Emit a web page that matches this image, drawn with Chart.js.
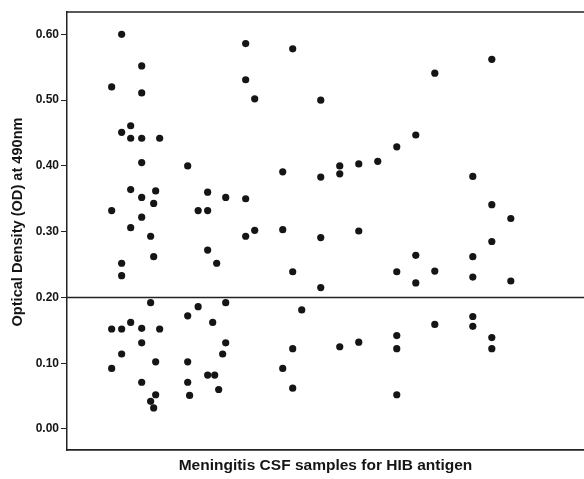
<!DOCTYPE html>
<html>
<head>
<meta charset="utf-8">
<script src="https://cdn.jsdelivr.net/npm/chart.js@4"></script>
<style>
html,body{margin:0;padding:0;background:#fff;overflow:hidden;}
#wrap{width:584px;height:479px;position:relative;}
</style>
</head>
<body>
<div id="wrap"><canvas id="c" width="584" height="479"></canvas></div>
<script>
// Sample position along the (unlabelled) x axis
const sampleX = [
  0, 0, 0, 0,
  1.05, 1.05, 1.05, 1.05, 1.05, 1.05,
  2, 2, 2, 2, 2,
  3.16, 3.16, 3.16, 3.16, 3.16, 3.16, 3.16, 3.16, 3.16,
  4.1, 4.1, 4.1,
  4.42, 4.42, 4.42,
  4.63, 4.63, 4.63,
  5.05, 5.05,
  8, 8, 8, 8, 8.2,
  9.1, 9.1,
  10.1, 10.1, 10.1, 10.1,
  10.63, 10.84, 11.05, 11.26, 11.68,
  12, 12, 12,
  14.1, 14.1, 14.1, 14.1,
  15.05, 15.05,
  18, 18, 18,
  19.05, 19.05, 19.05, 19.05,
  20,
  22, 22, 22, 22,
  24, 24, 24,
  26, 26, 26,
  28,
  30, 30, 30, 30, 30,
  32, 32, 32,
  34, 34, 34,
  38, 38, 38, 38, 38,
  40, 40, 40, 40, 40,
  42, 42
];
// Optical density (OD) at 490nm for each sample
const odValues = [
  0.520, 0.332, 0.152, 0.092,
  0.600, 0.451, 0.252, 0.233, 0.152, 0.114,
  0.461, 0.442, 0.364, 0.306, 0.162,
  0.552, 0.511, 0.442, 0.405, 0.352, 0.322, 0.153, 0.131, 0.071,
  0.293, 0.192, 0.042,
  0.343, 0.262, 0.032,
  0.362, 0.102, 0.052,
  0.442, 0.152,
  0.400, 0.172, 0.102, 0.071, 0.051,
  0.332, 0.186,
  0.360, 0.332, 0.272, 0.082,
  0.162, 0.082, 0.252, 0.060, 0.114,
  0.352, 0.192, 0.131,
  0.586, 0.531, 0.350, 0.293,
  0.502, 0.302,
  0.391, 0.303, 0.092,
  0.578, 0.239, 0.122, 0.062,
  0.181,
  0.500, 0.383, 0.291, 0.215,
  0.400, 0.388, 0.125,
  0.403, 0.301, 0.132,
  0.407,
  0.429, 0.239, 0.142, 0.122, 0.052,
  0.447, 0.264, 0.222,
  0.541, 0.240, 0.159,
  0.384, 0.262, 0.231, 0.171, 0.156,
  0.562, 0.341, 0.285, 0.139, 0.122,
  0.320, 0.225
];
const cutoffOD = 0.20;
const yTickValues = [0.00, 0.10, 0.20, 0.30, 0.40, 0.50, 0.60];
const xRange = [-4.7, 49.7];
const yRange = [-0.032, 0.634];
const yTitle = 'Optical Density (OD) at 490nm';
const xTitle = 'Meningitis CSF samples for HIB antigen';

const FONT = '"Liberation Sans", Arial, sans-serif';
const INK = '#151515';

const points = sampleX.map((x, i) => ({ x: x, y: odValues[i] }));
const cutoffLine = [{ x: xRange[0], y: cutoffOD }, { x: xRange[1], y: cutoffOD }];

const framePlugin = {
  id: 'frame',
  afterDraw(chart) {
    const { ctx, chartArea } = chart;
    ctx.save();
    // top frame line
    ctx.strokeStyle = '#222';
    ctx.lineWidth = 1.5;
    ctx.beginPath();
    ctx.moveTo(chartArea.left, chartArea.top);
    ctx.lineTo(chartArea.right, chartArea.top);
    ctx.stroke();
    // y axis title
    ctx.translate(18, 222);
    ctx.rotate(-Math.PI / 2);
    ctx.font = 'bold 14px ' + FONT;
    const w = ctx.measureText(yTitle).width;
    ctx.scale(209 / w, 1);
    ctx.textAlign = 'center';
    ctx.textBaseline = 'middle';
    ctx.fillStyle = INK;
    ctx.fillText(yTitle, 0, 0);
    ctx.restore();
  }
};

new Chart(document.getElementById('c'), {
  type: 'scatter',
  data: {
    datasets: [
      {
        type: 'scatter',
        data: points,
        pointRadius: 3.6,
        pointBackgroundColor: INK,
        pointBorderWidth: 0,
        pointHoverRadius: 3.6
      },
      {
        type: 'line',
        data: cutoffLine,
        borderColor: '#222',
        borderWidth: 1.5,
        pointRadius: 0,
        fill: false
      }
    ]
  },
  options: {
    responsive: false,
    devicePixelRatio: 1,
    animation: false,
    layout: { autoPadding: false, padding: { top: 12, left: 0, right: 0, bottom: 0 } },
    plugins: { legend: { display: false }, tooltip: { enabled: false } },
    scales: {
      x: {
        type: 'linear',
        min: xRange[0],
        max: xRange[1],
        ticks: { display: false },
        grid: { display: false },
        border: { display: true, color: '#222', width: 1.8 },
        title: {
          display: true,
          text: xTitle,
          color: INK,
          font: { family: FONT, size: 15.5, weight: 'bold' },
          padding: { top: 0, bottom: 4 }
        },
        afterFit(s) { s.height = 29; }
      },
      y: {
        type: 'linear',
        min: yRange[0],
        max: yRange[1],
        afterBuildTicks(s) { s.ticks = yTickValues.map(v => ({ value: v })); },
        ticks: {
          callback: v => Number(v).toFixed(2),
          color: INK,
          font: { family: FONT, size: 12, weight: 'bold' },
          padding: 2
        },
        grid: { drawOnChartArea: false, drawTicks: true, tickLength: 6, color: '#222', lineWidth: 1 },
        border: { display: true, color: '#222', width: 1.5 },
        afterFit(s) { s.width = 67; }
      }
    }
  },
  plugins: [framePlugin]
});
</script>
</body>
</html>
